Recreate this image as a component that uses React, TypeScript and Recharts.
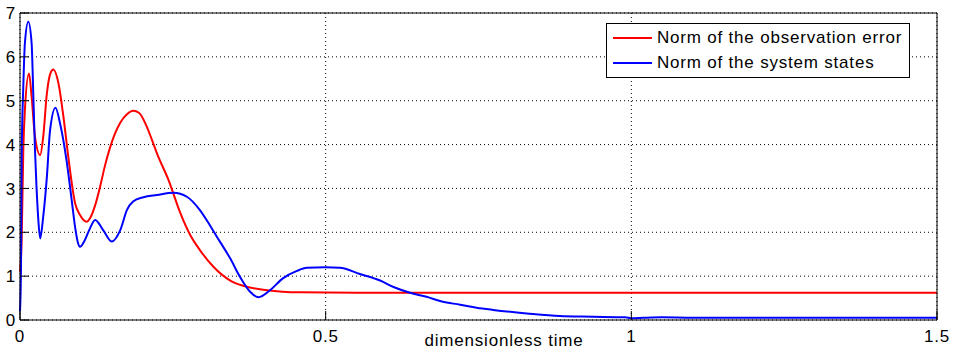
import React from 'react';
import { LineChart, Line, XAxis, YAxis, CartesianGrid, Legend } from 'recharts';

// Norm of the observation error (red)
const errT = [0, 0.0027, 0.0054, 0.008, 0.0147, 0.019, 0.0245, 0.033, 0.038, 0.044, 0.049, 0.0545, 0.063, 0.071, 0.079, 0.09, 0.098, 0.109, 0.1145, 0.123, 0.131, 0.139, 0.147, 0.155, 0.164, 0.175, 0.185, 0.195, 0.207, 0.216, 0.224, 0.243, 0.262, 0.278, 0.294, 0.316, 0.344, 0.365, 0.404, 0.458, 0.55, 0.7, 0.9, 1.1, 1.3, 1.5];
const errV = [1.1, 1.82, 3.88, 4.79, 5.62, 5.09, 4.18, 3.76, 4.18, 5.17, 5.59, 5.71, 5.39, 4.64, 3.72, 2.67, 2.4, 2.24, 2.32, 2.62, 3.04, 3.52, 3.92, 4.24, 4.5, 4.69, 4.77, 4.72, 4.42, 4.1, 3.8, 3.19, 2.45, 1.95, 1.6, 1.22, 0.9, 0.78, 0.68, 0.63, 0.62, 0.62, 0.62, 0.62, 0.62, 0.62];

// Norm of the system states (blue)
const stT = [0, 0.0016, 0.0027, 0.0054, 0.008, 0.0136, 0.019, 0.022, 0.0245, 0.027, 0.03, 0.033, 0.038, 0.044, 0.049, 0.058, 0.066, 0.076, 0.0845, 0.09, 0.095, 0.098, 0.106, 0.1145, 0.123, 0.136, 0.15, 0.164, 0.175, 0.185, 0.202, 0.224, 0.251, 0.273, 0.294, 0.311, 0.322, 0.344, 0.36, 0.376, 0.39, 0.409, 0.43, 0.453, 0.469, 0.5, 0.523, 0.556, 0.589, 0.613, 0.638, 0.665, 0.69, 0.72, 0.747, 0.774, 0.829, 0.883, 0.937, 0.99, 1.0, 1.02, 1.05, 1.1, 1.2, 1.3, 1.4, 1.5];
const stV = [0.2, 1.14, 3.72, 5.32, 6.31, 6.8, 6.31, 5.02, 3.88, 3.04, 2.28, 1.86, 2.36, 3.27, 4.3, 4.84, 4.45, 3.65, 2.74, 2.13, 1.75, 1.67, 1.82, 2.09, 2.28, 2.05, 1.79, 2.05, 2.51, 2.7, 2.8, 2.85, 2.9, 2.81, 2.51, 2.15, 1.9, 1.4, 0.98, 0.65, 0.52, 0.68, 0.95, 1.12, 1.19, 1.2, 1.19, 1.05, 0.9, 0.74, 0.62, 0.53, 0.42, 0.35, 0.28, 0.23, 0.15, 0.09, 0.075, 0.06, 0.04, 0.05, 0.06, 0.05, 0.05, 0.05, 0.05, 0.05];

const xTicks = [0, 0.5, 1, 1.5];
const xTickLabels = ['0', '0.5', '1', '1.5'];
const yTicks = [0, 1, 2, 3, 4, 5, 6, 7];

const seriesNames = ['Norm of the observation error', 'Norm of the system states'];
const seriesColors = ['#ff0000', '#0000ff'];

const errData = errT.map((t, i) => ({ t, v: errV[i] }));
const stData = stT.map((t, i) => ({ t, v: stV[i] }));

const font = { fontFamily: '"Liberation Sans", Arial, Helvetica, sans-serif', fontSize: 17, letterSpacing: 0.8 };
const TICK = 9;

const BottomTick = (props: any) => {
  const { x, y, payload } = props;
  const idx = xTicks.indexOf(payload.value);
  return (
    <g>
      <line x1={x} x2={x} y1={y} y2={y - TICK} stroke="#000" />
      <text x={x} y={y + 22} textAnchor="middle" fill="#000" style={font}>
        {idx >= 0 ? xTickLabels[idx] : payload.value}
      </text>
    </g>
  );
};

const TopTick = (props: any) => {
  const { x, y } = props;
  return <line x1={x} x2={x} y1={y} y2={y + TICK} stroke="#000" />;
};

const LeftTick = (props: any) => {
  const { x, y, payload } = props;
  return (
    <g>
      <line x1={x} x2={x + TICK} y1={y} y2={y} stroke="#000" />
      <text x={x - 4} y={y} dy="0.36em" textAnchor="end" fill="#000" style={font}>
        {payload.value}
      </text>
    </g>
  );
};

const RightTick = (props: any) => {
  const { x, y } = props;
  return <line x1={x} x2={x - TICK} y1={y} y2={y} stroke="#000" />;
};

const LegendBox = () => (
  <div
    style={{
      width: 302,
      height: 53,
      border: '1px solid #000',
      background: '#fff',
      position: 'relative',
      ...font,
    }}
  >
    {seriesNames.map((name, i) => (
      <div key={name} style={{ position: 'absolute', left: 6, top: 3 + i * 25, height: 22, display: 'flex', alignItems: 'center' }}>
        <div style={{ width: 39, height: 2, background: seriesColors[i], marginRight: 5 }} />
        <span style={{ color: '#000', whiteSpace: 'nowrap' }}>{name}</span>
      </div>
    ))}
  </div>
);

export default function App() {
  return (
    <div style={{ position: 'absolute', left: 0, top: 0, width: 967, height: 354, background: '#fff' }}>
      <LineChart width={967} height={354} margin={{ top: 0, right: 0, bottom: 0, left: 0 }}>
        <CartesianGrid stroke="#000" strokeDasharray="1 3" />
        <XAxis
          dataKey="t"
          type="number"
          domain={[0, 1.5]}
          ticks={xTicks}
          height={34}
          tickSize={0}
          tickMargin={0}
          tickLine={false}
          axisLine={{ stroke: '#000' }}
          tick={<BottomTick />}
          interval={0}
          label={{
            content: () => (
              <text x={504} y={346} textAnchor="middle" fill="#000" style={font}>
                dimensionless time
              </text>
            ),
          }}
        />
        <XAxis
          xAxisId="top"
          orientation="top"
          dataKey="t"
          type="number"
          domain={[0, 1.5]}
          ticks={xTicks}
          height={13}
          tickSize={0}
          tickMargin={0}
          tickLine={false}
          axisLine={{ stroke: '#000' }}
          tick={<TopTick />}
          interval={0}
        />
        <YAxis
          domain={[0, 7]}
          ticks={yTicks}
          width={20}
          tickSize={0}
          tickMargin={0}
          tickLine={false}
          axisLine={{ stroke: '#000' }}
          tick={<LeftTick />}
          interval={0}
        />
        <YAxis
          yAxisId="right"
          orientation="right"
          domain={[0, 7]}
          ticks={yTicks}
          width={30}
          tickSize={0}
          tickMargin={0}
          tickLine={false}
          axisLine={{ stroke: '#000' }}
          tick={<RightTick />}
          interval={0}
        />
        <Legend
          layout="vertical"
          align="center"
          verticalAlign="middle"
          content={() => <LegendBox />}
          wrapperStyle={{ left: 606, top: 23, width: 304, height: 55 }}
        />
        <Line
          data={errData}
          dataKey="v"
          name={seriesNames[0]}
          type="monotone"
          stroke={seriesColors[0]}
          strokeWidth={2}
          dot={false}
          activeDot={false}
          isAnimationActive={false}
        />
        <Line
          data={stData}
          dataKey="v"
          name={seriesNames[1]}
          type="monotone"
          stroke={seriesColors[1]}
          strokeWidth={2}
          dot={false}
          activeDot={false}
          isAnimationActive={false}
        />
      </LineChart>
    </div>
  );
}
